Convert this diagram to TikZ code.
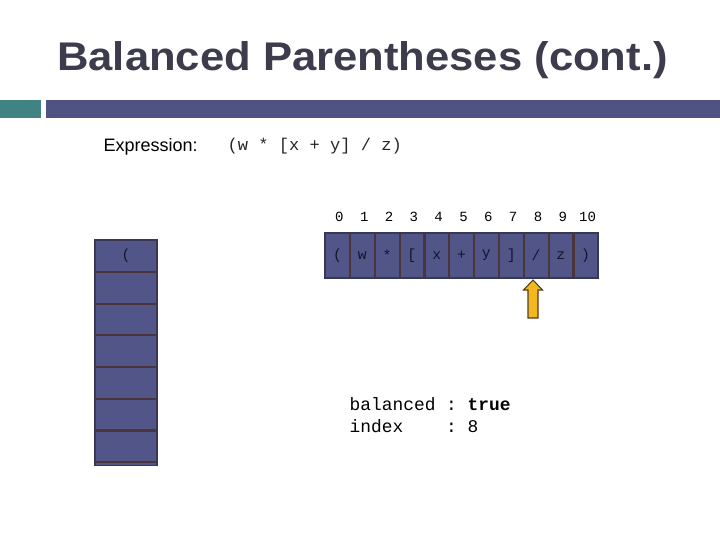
\documentclass[tikz,border=0pt]{standalone}
\usepackage{fontspec}
\setmainfont{Liberation Sans}
\setmonofont{Liberation Mono}
\definecolor{titlegray}{RGB}{60,60,76}
\definecolor{tealbar}{RGB}{65,131,131}
\definecolor{purplebar}{RGB}{80,82,132}
\definecolor{cellfill}{RGB}{82,85,136}
\definecolor{sepbrown}{RGB}{74,54,58}
\definecolor{framegray}{RGB}{56,56,84}
\definecolor{celltext}{RGB}{20,20,45}
\definecolor{arrowgold}{RGB}{245,183,30}
\definecolor{arrowedge}{RGB}{80,62,36}
\begin{document}
\begin{tikzpicture}[x=0.75pt,y=-0.75pt,
  acell/.style={rectangle,fill=cellfill,inner sep=0pt,minimum width=18.6pt,minimum height=33.75pt,
     text=celltext,font=\ttfamily\fontsize{11}{12}\selectfont},
  scell/.style={rectangle,fill=cellfill,inner sep=0pt,minimum width=46.5pt,minimum height=23.8pt,
     text=celltext,font=\ttfamily\fontsize{11}{12}\selectfont},
  idx/.style={font=\ttfamily\fontsize{10.5}{12}\selectfont,text=black},
  sep/.style={draw=sepbrown,line width=1.6pt},
  frame/.style={draw=framegray,line width=1.2pt}]
\useasboundingbox (0,0) rectangle (720,540);
% title
\node[text=titlegray,font=\bfseries\fontsize{30}{34}\selectfont,anchor=base] (title) at (362.5,70)
  {\scalebox{1.09}[1]{Balanced Parentheses (cont.)}};
% bars
\fill[tealbar] (0,100) rectangle (41,118);
\fill[purplebar] (46,100) rectangle (720,118);
% expression
\node[anchor=west,font=\fontsize{13.5}{16}\selectfont] (exlabel) at (99,147) {Expression:};
\node[anchor=west,font=\ttfamily\fontsize{12.8}{15}\selectfont,text=black!85] (expr) at (223,146) {(w * [x + y] / z)};
% array
\foreach \i/\c in {0/{(},1/{w},2/{*},3/{[},4/{x},5/{+},6/{y},7/{]},8/{/},9/{z},10/{)}}{
  \node[acell] (a\i) at ({325+24.82*\i+12.41},255.5) {\c};
  \node[idx] (n\i) at ({325+24.82*\i+12.41+2},217) {\i};
}
\draw[frame] (a0.north west) rectangle (a10.south east);
\foreach \i in {0,...,9}{
  \draw[sep] (a\i.north east) -- (a\i.south east);
}
% stack
\foreach \j in {0,...,6}{
  \node[scell] (s\j) at (126,{240+31.71*\j+15.86}) {};
}
\node[font=\ttfamily\fontsize{11}{12}\selectfont,text=celltext] (stop) at (s0) {(};
\draw[frame] (s0.north west) rectangle ([yshift=-2.5pt]s6.south east);
\fill[cellfill] ([xshift=0.6pt]s6.south west) rectangle ([xshift=-0.6pt,yshift=-1.9pt]s6.south east);
\foreach \j in {0,...,6}{
  \draw[sep] ([xshift=0.6pt]s\j.south west) -- ([xshift=-0.6pt]s\j.south east);
}
% arrow
\filldraw[fill=arrowgold,draw=arrowedge,line width=0.8pt,line join=miter]
  (533,280) -- (542.5,290) -- (538,290) -- (538,318) -- (528,318) -- (528,290) -- (523.5,290) -- cycle;
% result text
\node[anchor=west,font=\ttfamily\fontsize{13.4}{16.5}\selectfont,align=left] (res) at (345,415)
  {balanced : \textbf{true}\\index\ \ \ \ : 8};
\end{tikzpicture}
\end{document}
